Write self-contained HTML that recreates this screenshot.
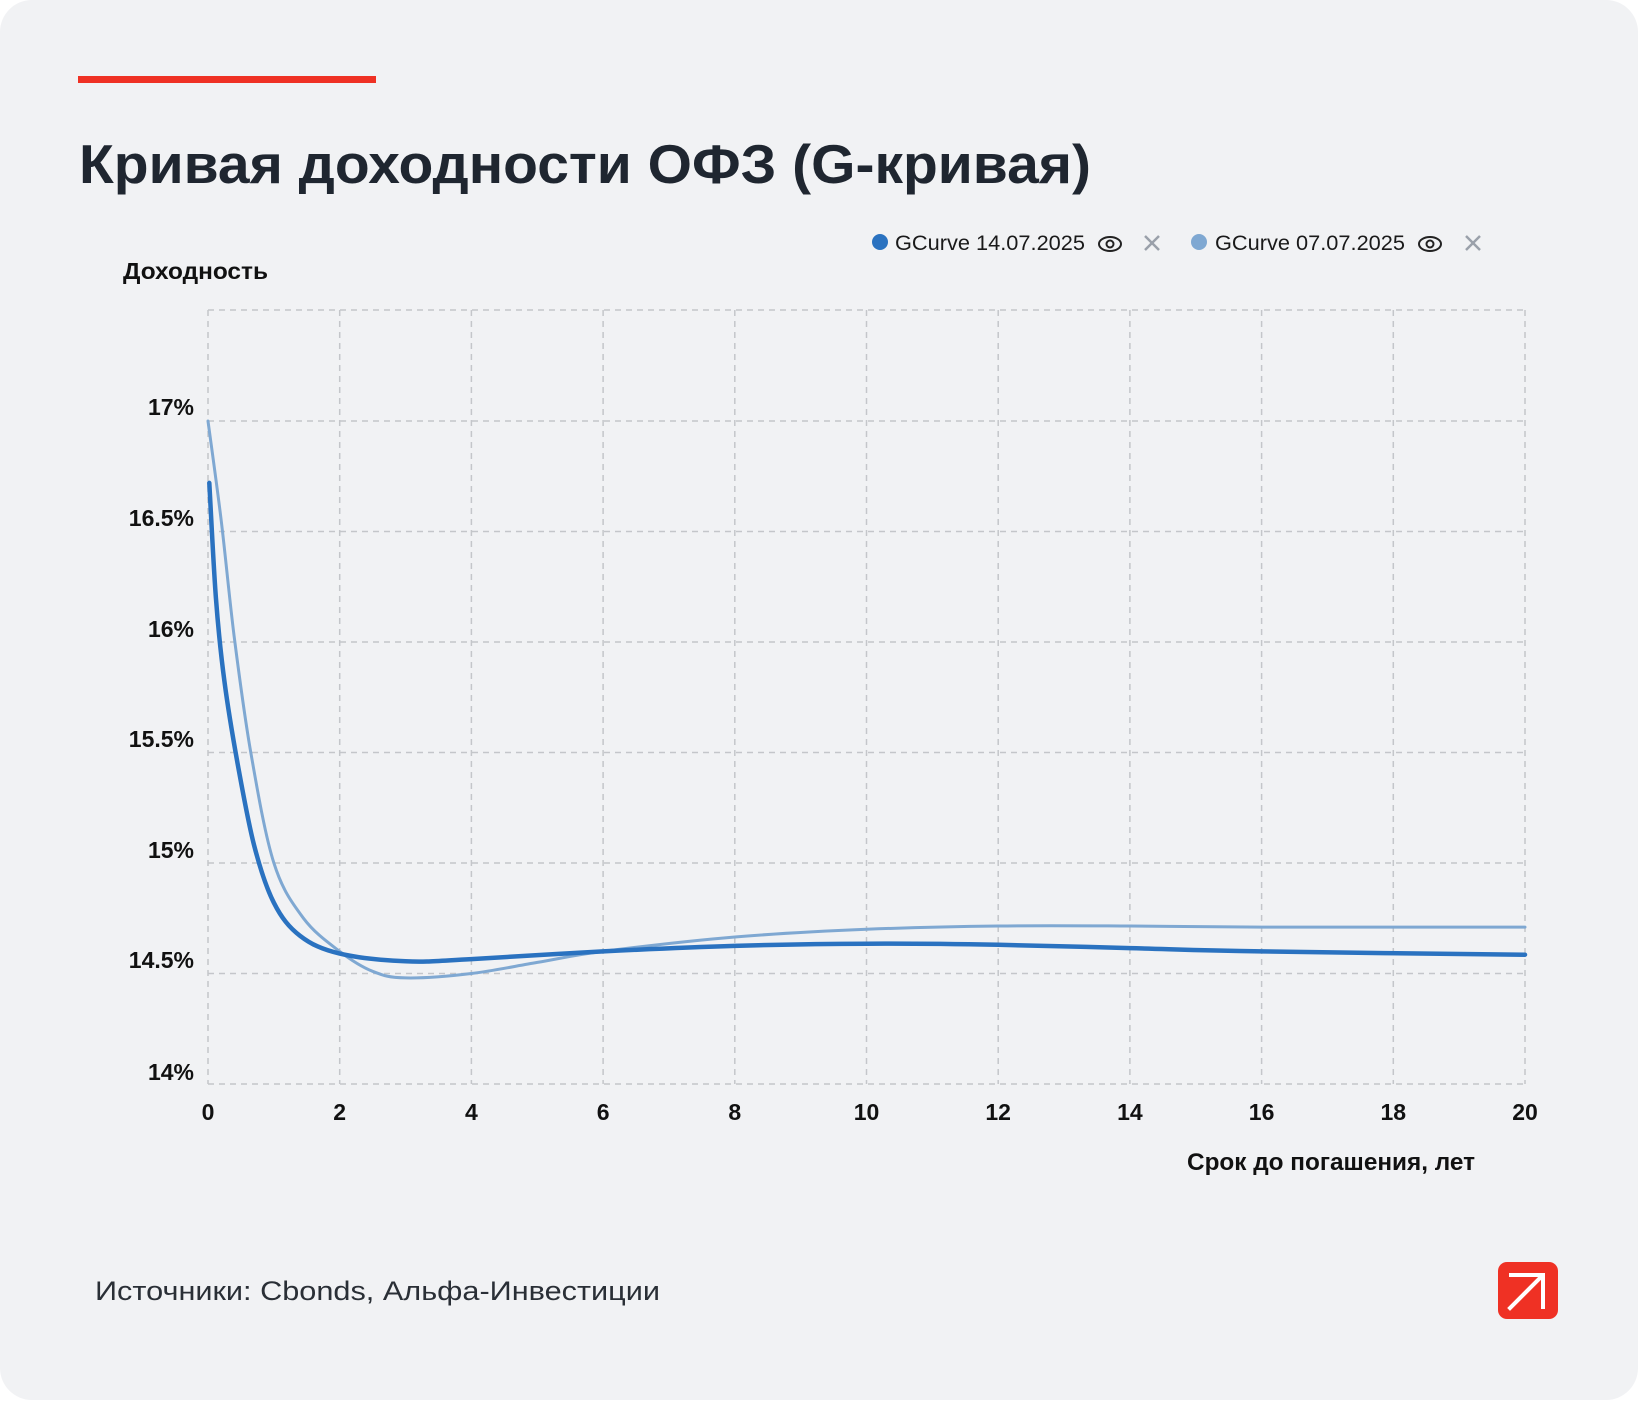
<!DOCTYPE html>
<html><head><meta charset="utf-8"><style>
html,body{margin:0;padding:0;background:#fff;}
body{width:1638px;height:1400px;overflow:hidden;}
</style></head><body>
<svg width="1638" height="1400" viewBox="0 0 1638 1400" xmlns="http://www.w3.org/2000/svg" font-family="Liberation Sans, DejaVu Sans, sans-serif">
<rect x="0" y="0" width="1638" height="1400" rx="32" fill="#f1f2f4"/>
<rect x="78" y="76" width="298" height="7" fill="#ef3124"/>
<text x="79" y="183" font-size="55" font-weight="bold" fill="#1f2630" textLength="1012" lengthAdjust="spacingAndGlyphs">Кривая доходности ОФЗ (G-кривая)</text>
<circle cx="880" cy="242" r="8" fill="#2a72c0"/>
<text x="895" y="250" font-size="21" fill="#1a1a1a" textLength="190" lengthAdjust="spacingAndGlyphs">GCurve 14.07.2025</text>
<g fill="none" stroke="#222" stroke-width="2"><ellipse cx="1110" cy="244" rx="11" ry="7"/><circle cx="1110" cy="244" r="3.5"/></g>
<g stroke="#9aa0aa" stroke-width="2.5"><line x1="1145" y1="236" x2="1159" y2="250"/><line x1="1159" y1="236" x2="1145" y2="250"/></g>
<circle cx="1199" cy="242" r="8" fill="#7fa8d2"/>
<text x="1215" y="250" font-size="21" fill="#1a1a1a" textLength="190" lengthAdjust="spacingAndGlyphs">GCurve 07.07.2025</text>
<g fill="none" stroke="#222" stroke-width="2"><ellipse cx="1430" cy="244" rx="11" ry="7"/><circle cx="1430" cy="244" r="3.5"/></g>
<g stroke="#9aa0aa" stroke-width="2.5"><line x1="1466" y1="236" x2="1480" y2="250"/><line x1="1480" y1="236" x2="1466" y2="250"/></g>
<text x="123" y="279" font-size="23" font-weight="bold" fill="#111" textLength="145" lengthAdjust="spacingAndGlyphs">Доходность</text>
<g stroke="#c4c6ca" stroke-width="1.5" stroke-dasharray="6,5">
<line x1="208" y1="310" x2="1525" y2="310"/>
<line x1="208" y1="421" x2="1525" y2="421"/>
<line x1="208" y1="531.5" x2="1525" y2="531.5"/>
<line x1="208" y1="642" x2="1525" y2="642"/>
<line x1="208" y1="752.5" x2="1525" y2="752.5"/>
<line x1="208" y1="863" x2="1525" y2="863"/>
<line x1="208" y1="973.5" x2="1525" y2="973.5"/>
<line x1="208" y1="1084" x2="1525" y2="1084"/>
<line x1="208" y1="310" x2="208" y2="1084"/>
<line x1="339.7" y1="310" x2="339.7" y2="1084"/>
<line x1="471.4" y1="310" x2="471.4" y2="1084"/>
<line x1="603.1" y1="310" x2="603.1" y2="1084"/>
<line x1="734.8" y1="310" x2="734.8" y2="1084"/>
<line x1="866.5" y1="310" x2="866.5" y2="1084"/>
<line x1="998.2" y1="310" x2="998.2" y2="1084"/>
<line x1="1129.9" y1="310" x2="1129.9" y2="1084"/>
<line x1="1261.6" y1="310" x2="1261.6" y2="1084"/>
<line x1="1393.3" y1="310" x2="1393.3" y2="1084"/>
<line x1="1525" y1="310" x2="1525" y2="1084"/>
</g>
<g font-size="23" font-weight="bold" fill="#111" text-anchor="end">
<text x="194" y="415">17%</text>
<text x="194" y="526">16.5%</text>
<text x="194" y="637">16%</text>
<text x="194" y="747">15.5%</text>
<text x="194" y="858">15%</text>
<text x="194" y="968">14.5%</text>
<text x="194" y="1080">14%</text>
</g>
<g font-size="23" font-weight="bold" fill="#111" text-anchor="middle">
<text x="208" y="1120">0</text><text x="339.7" y="1120">2</text><text x="471.4" y="1120">4</text>
<text x="603.1" y="1120">6</text><text x="734.8" y="1120">8</text><text x="866.5" y="1120">10</text>
<text x="998.2" y="1120">12</text><text x="1129.9" y="1120">14</text><text x="1261.6" y="1120">16</text>
<text x="1393.3" y="1120">18</text><text x="1525" y="1120">20</text>
</g>
<text x="1475" y="1170" font-size="24" font-weight="bold" fill="#111" text-anchor="end" textLength="288" lengthAdjust="spacingAndGlyphs">Срок до погашения, лет</text>
<path id="light" fill="none" stroke="#7fa8d2" stroke-width="3" stroke-linejoin="round" stroke-linecap="round" d=""/>
<path id="dark" fill="none" stroke="#2a72c0" stroke-width="4.5" stroke-linejoin="round" stroke-linecap="round" d=""/>
<text x="95" y="1300" font-size="27" fill="#2a2f36" textLength="565" lengthAdjust="spacingAndGlyphs">Источники: Cbonds, Альфа-Инвестиции</text>
<rect x="1498" y="1262" width="60" height="57" rx="9" fill="#ef3124"/>
<g stroke="#fff" stroke-width="4" fill="none" stroke-linecap="square">
<line x1="1510" y1="1308" x2="1542" y2="1276"/>
<polyline points="1511,1275 1543,1275 1543,1307"/>
</g>
</svg>
<script>
function X(x){return 208+x*65.85;}function Y(y){return 421+(17-y)*221;}
function path(pts){var p=pts.map(function(a){return [X(a[0]),Y(a[1])];});
var d="M"+p[0][0].toFixed(1)+","+p[0][1].toFixed(1);
for(var i=0;i<p.length-1;i++){var p0=p[i-1]||p[i],p1=p[i],p2=p[i+1],p3=p[i+2]||p2;
var c1=[p1[0]+(p2[0]-p0[0])/6,p1[1]+(p2[1]-p0[1])/6],c2=[p2[0]-(p3[0]-p1[0])/6,p2[1]-(p3[1]-p1[1])/6];
d+=" C"+c1[0].toFixed(1)+","+c1[1].toFixed(1)+" "+c2[0].toFixed(1)+","+c2[1].toFixed(1)+" "+p2[0].toFixed(1)+","+p2[1].toFixed(1);}
return d;}
document.getElementById("dark").setAttribute("d",path([[0.02,16.72],[0.12,16.2],[0.25,15.82],[0.45,15.45],[0.7,15.08],[1.0,14.82],[1.4,14.67],[2,14.59],[3,14.555],[4,14.565],[6,14.6],[8,14.625],[10,14.635],[12,14.63],[14,14.615],[16,14.6],[20,14.585]]));
document.getElementById("light").setAttribute("d",path([[0,17.0],[0.2,16.55],[0.4,16.02],[0.65,15.5],[1.0,15.0],[1.45,14.75],[2,14.6],[2.5,14.51],[3,14.48],[4,14.5],[5,14.55],[6,14.6],[8,14.665],[10,14.7],[12,14.715],[14,14.715],[16,14.71],[20,14.71]]));
</script>
</body></html>
